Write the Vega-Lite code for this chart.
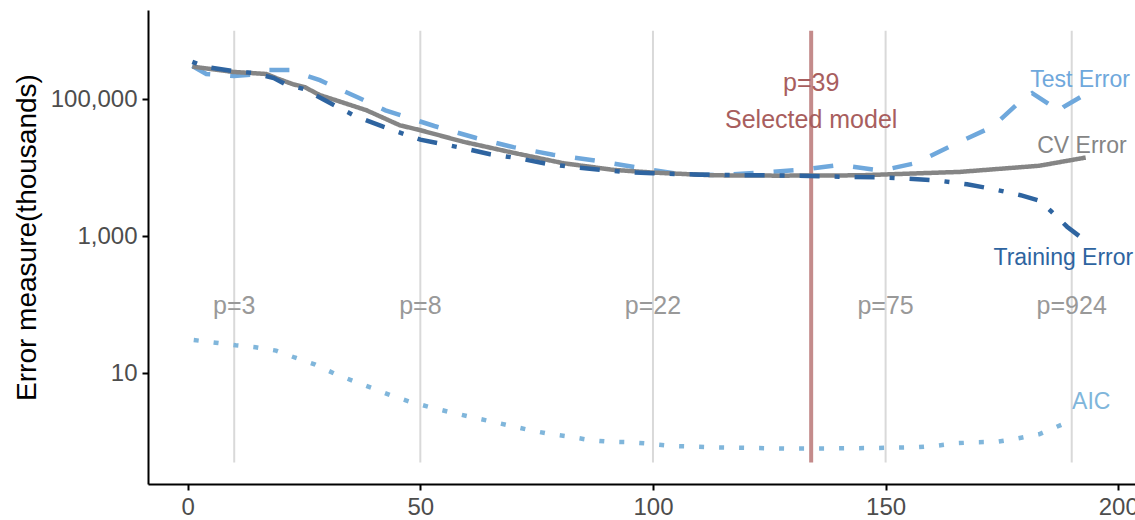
{
  "$schema": "https://vega.github.io/schema/vega-lite/v6.json",
  "width": 987,
  "height": 474,
  "autosize": {"type": "none"},
  "padding": {"left": 148, "top": 10, "right": 0, "bottom": 36},
  "background": "white",
  "config": {
    "view": {"stroke": null},
    "font": "Liberation Sans",
    "axis": {"grid": false, "domainColor": "black", "domainWidth": 2, "tickColor": "black", "tickWidth": 2, "tickSize": 6, "labelColor": "#4d4d4d", "labelFontSize": 24, "labelFont": "Liberation Sans", "titleFont": "Liberation Sans", "titleFontWeight": "normal", "titleColor": "black"}
  },
  "datasets": {
    "series": [
      {"k": 1, "value": 306000, "series": "Test Error"},
      {"k": 4, "value": 234000, "series": "Test Error"},
      {"k": 10, "value": 219000, "series": "Test Error"},
      {"k": 14, "value": 230000, "series": "Test Error"},
      {"k": 17, "value": 267000, "series": "Test Error"},
      {"k": 22, "value": 267000, "series": "Test Error"},
      {"k": 28.4, "value": 190000, "series": "Test Error"},
      {"k": 36.5, "value": 107000, "series": "Test Error"},
      {"k": 42.5, "value": 69000, "series": "Test Error"},
      {"k": 53, "value": 40700, "series": "Test Error"},
      {"k": 62, "value": 27200, "series": "Test Error"},
      {"k": 70, "value": 20000, "series": "Test Error"},
      {"k": 78.5, "value": 15500, "series": "Test Error"},
      {"k": 88, "value": 12600, "series": "Test Error"},
      {"k": 97, "value": 10000, "series": "Test Error"},
      {"k": 104.5, "value": 8300, "series": "Test Error"},
      {"k": 114, "value": 7760, "series": "Test Error"},
      {"k": 123, "value": 8500, "series": "Test Error"},
      {"k": 131.5, "value": 9300, "series": "Test Error"},
      {"k": 140, "value": 11000, "series": "Test Error"},
      {"k": 149, "value": 9100, "series": "Test Error"},
      {"k": 156.5, "value": 11700, "series": "Test Error"},
      {"k": 165, "value": 22400, "series": "Test Error"},
      {"k": 173, "value": 39800, "series": "Test Error"},
      {"k": 179, "value": 94400, "series": "Test Error"},
      {"k": 181.5, "value": 123000, "series": "Test Error"},
      {"k": 185.3, "value": 83000, "series": "Test Error"},
      {"k": 187, "value": 64600, "series": "Test Error"},
      {"k": 188.3, "value": 77600, "series": "Test Error"},
      {"k": 192.6, "value": 115000, "series": "Test Error"},
      {"k": 1, "value": 300000, "series": "CV Error"},
      {"k": 9.7, "value": 251000, "series": "CV Error"},
      {"k": 16.9, "value": 234000, "series": "CV Error"},
      {"k": 19, "value": 204000, "series": "CV Error"},
      {"k": 22.6, "value": 166000, "series": "CV Error"},
      {"k": 25.1, "value": 151000, "series": "CV Error"},
      {"k": 28.4, "value": 115000, "series": "CV Error"},
      {"k": 31.2, "value": 100000, "series": "CV Error"},
      {"k": 38.4, "value": 69200, "series": "CV Error"},
      {"k": 45.6, "value": 41700, "series": "CV Error"},
      {"k": 49.9, "value": 35500, "series": "CV Error"},
      {"k": 59.2, "value": 24000, "series": "CV Error"},
      {"k": 69.9, "value": 16600, "series": "CV Error"},
      {"k": 80.6, "value": 11700, "series": "CV Error"},
      {"k": 91.4, "value": 9330, "series": "CV Error"},
      {"k": 100, "value": 8510, "series": "CV Error"},
      {"k": 112.9, "value": 7760, "series": "CV Error"},
      {"k": 127.3, "value": 7670, "series": "CV Error"},
      {"k": 144.5, "value": 7760, "series": "CV Error"},
      {"k": 166, "value": 8710, "series": "CV Error"},
      {"k": 183, "value": 10700, "series": "CV Error"},
      {"k": 193, "value": 14100, "series": "CV Error"},
      {"k": 1, "value": 351000, "series": "Training Error"},
      {"k": 4, "value": 295000, "series": "Training Error"},
      {"k": 10, "value": 257000, "series": "Training Error"},
      {"k": 14.4, "value": 240000, "series": "Training Error"},
      {"k": 18.5, "value": 204000, "series": "Training Error"},
      {"k": 21, "value": 166000, "series": "Training Error"},
      {"k": 25, "value": 141000, "series": "Training Error"},
      {"k": 30.5, "value": 89000, "series": "Training Error"},
      {"k": 36, "value": 56900, "series": "Training Error"},
      {"k": 42, "value": 39800, "series": "Training Error"},
      {"k": 50, "value": 25700, "series": "Training Error"},
      {"k": 59, "value": 19500, "series": "Training Error"},
      {"k": 65, "value": 15800, "series": "Training Error"},
      {"k": 71, "value": 13800, "series": "Training Error"},
      {"k": 77, "value": 11500, "series": "Training Error"},
      {"k": 83, "value": 10200, "series": "Training Error"},
      {"k": 88.6, "value": 9330, "series": "Training Error"},
      {"k": 95, "value": 8610, "series": "Training Error"},
      {"k": 100, "value": 8320, "series": "Training Error"},
      {"k": 110, "value": 7940, "series": "Training Error"},
      {"k": 123, "value": 7760, "series": "Training Error"},
      {"k": 131.5, "value": 7670, "series": "Training Error"},
      {"k": 140, "value": 7410, "series": "Training Error"},
      {"k": 149, "value": 7240, "series": "Training Error"},
      {"k": 155, "value": 6920, "series": "Training Error"},
      {"k": 161.6, "value": 6460, "series": "Training Error"},
      {"k": 167.5, "value": 5750, "series": "Training Error"},
      {"k": 173, "value": 4900, "series": "Training Error"},
      {"k": 179, "value": 3980, "series": "Training Error"},
      {"k": 183, "value": 3310, "series": "Training Error"},
      {"k": 185.5, "value": 2340, "series": "Training Error"},
      {"k": 189, "value": 1380, "series": "Training Error"},
      {"k": 193, "value": 851, "series": "Training Error"},
      {"k": 1.3, "value": 30.6, "series": "AIC"},
      {"k": 6, "value": 28.0, "series": "AIC"},
      {"k": 10.3, "value": 25.7, "series": "AIC"},
      {"k": 14.6, "value": 24.0, "series": "AIC"},
      {"k": 19, "value": 21.4, "series": "AIC"},
      {"k": 23, "value": 17.0, "series": "AIC"},
      {"k": 27.3, "value": 13.5, "series": "AIC"},
      {"k": 31.4, "value": 10.0, "series": "AIC"},
      {"k": 35.5, "value": 7.76, "series": "AIC"},
      {"k": 39.8, "value": 6.03, "series": "AIC"},
      {"k": 43.6, "value": 4.79, "series": "AIC"},
      {"k": 47.7, "value": 3.85, "series": "AIC"},
      {"k": 51.8, "value": 3.24, "series": "AIC"},
      {"k": 56, "value": 2.75, "series": "AIC"},
      {"k": 60.4, "value": 2.34, "series": "AIC"},
      {"k": 65, "value": 2.0, "series": "AIC"},
      {"k": 69.2, "value": 1.72, "series": "AIC"},
      {"k": 73.5, "value": 1.48, "series": "AIC"},
      {"k": 77.8, "value": 1.30, "series": "AIC"},
      {"k": 82, "value": 1.19, "series": "AIC"},
      {"k": 86.4, "value": 1.06, "series": "AIC"},
      {"k": 90.7, "value": 1.0, "series": "AIC"},
      {"k": 95.2, "value": 0.984, "series": "AIC"},
      {"k": 99.5, "value": 0.933, "series": "AIC"},
      {"k": 104, "value": 0.871, "series": "AIC"},
      {"k": 112.6, "value": 0.832, "series": "AIC"},
      {"k": 121.2, "value": 0.813, "series": "AIC"},
      {"k": 130, "value": 0.794, "series": "AIC"},
      {"k": 138.8, "value": 0.80, "series": "AIC"},
      {"k": 147.9, "value": 0.813, "series": "AIC"},
      {"k": 156.5, "value": 0.832, "series": "AIC"},
      {"k": 161, "value": 0.877, "series": "AIC"},
      {"k": 165.5, "value": 0.955, "series": "AIC"},
      {"k": 169.6, "value": 0.984, "series": "AIC"},
      {"k": 174, "value": 1.0, "series": "AIC"},
      {"k": 178.4, "value": 1.12, "series": "AIC"},
      {"k": 183, "value": 1.29, "series": "AIC"},
      {"k": 186.8, "value": 1.66, "series": "AIC"},
      {"k": 190.7, "value": 2.14, "series": "AIC"}
    ],
    "vlines": [
      {"k": 10, "p": "p=3"},
      {"k": 50, "p": "p=8"},
      {"k": 100, "p": "p=22"},
      {"k": 150, "p": "p=75"},
      {"k": 190, "p": "p=924"}
    ],
    "selected": [{"k": 134}],
    "selectedText": [
      {"k": 134, "value": 171000, "text": "p=39"},
      {"k": 134, "value": 49900, "text": "Selected model"}
    ],
    "labels": [
      {"k": 191.8, "value": 190000, "series": "Test Error"},
      {"k": 192.2, "value": 20800, "series": "CV Error"},
      {"k": 188.2, "value": 482, "series": "Training Error"},
      {"k": 194.2, "value": 3.85, "series": "AIC"}
    ]
  },
  "layer": [
    {
      "data": {"name": "vlines"},
      "mark": {"type": "rule", "color": "#d9d9d9", "strokeWidth": 2},
      "encoding": {
        "x": {"field": "k", "type": "quantitative", "scale": {"domain": [-8.53, 203.6], "nice": false, "zero": false},
              "axis": {"values": [0, 50, 100, 150, 200], "title": null, "labelPadding": 5}},
        "y": {"datum": 0.5, "type": "quantitative", "scale": {"type": "log", "domain": [0.242, 2010000], "nice": false},
              "axis": {"values": [10, 1000, 100000], "format": ",", "title": "Error measure(thousands)", "titleFontSize": 28, "titleX": -113, "titleY": 227, "titleBaseline": "alphabetic", "labelPadding": 5}},
        "y2": {"datum": 1000000}
      }
    },
    {
      "data": {"name": "selected"},
      "mark": {"type": "rule", "color": "#c48b8b", "strokeWidth": 4},
      "encoding": {
        "x": {"field": "k", "type": "quantitative"},
        "y": {"datum": 0.5, "type": "quantitative"},
        "y2": {"datum": 1000000}
      }
    },
    {
      "data": {"name": "series"},
      "mark": {"type": "line", "strokeWidth": 4.5, "strokeCap": "butt"},
      "encoding": {
        "x": {"field": "k", "type": "quantitative"},
        "y": {"field": "value", "type": "quantitative"},
        "color": {"field": "series", "type": "nominal", "legend": null,
                  "scale": {"domain": ["Test Error", "CV Error", "Training Error", "AIC"], "range": ["#6fa8dc", "#858585", "#2e64a0", "#80b6db"]}},
        "strokeDash": {"field": "series", "type": "nominal", "legend": null,
                  "scale": {"domain": ["Test Error", "CV Error", "Training Error", "AIC"], "range": [[20, 20], [1, 0], [5, 15, 20, 15], [5, 15]]}},
        "detail": {"field": "series"}
      }
    },
    {
      "data": {"name": "vlines"},
      "mark": {"type": "text", "color": "#999999", "fontSize": 25, "align": "center", "baseline": "middle"},
      "encoding": {
        "x": {"field": "k", "type": "quantitative"},
        "y": {"datum": 95, "type": "quantitative"},
        "text": {"field": "p"}
      }
    },
    {
      "data": {"name": "selectedText"},
      "mark": {"type": "text", "color": "#a85e5e", "fontSize": 25, "align": "center", "baseline": "middle"},
      "encoding": {
        "x": {"field": "k", "type": "quantitative"},
        "y": {"field": "value", "type": "quantitative"},
        "text": {"field": "text"}
      }
    },
    {
      "data": {"name": "labels"},
      "mark": {"type": "text", "fontSize": 23, "align": "center", "baseline": "middle"},
      "encoding": {
        "x": {"field": "k", "type": "quantitative"},
        "y": {"field": "value", "type": "quantitative"},
        "text": {"field": "series"},
        "color": {"field": "series", "type": "nominal", "legend": null}
      }
    }
  ]
}
